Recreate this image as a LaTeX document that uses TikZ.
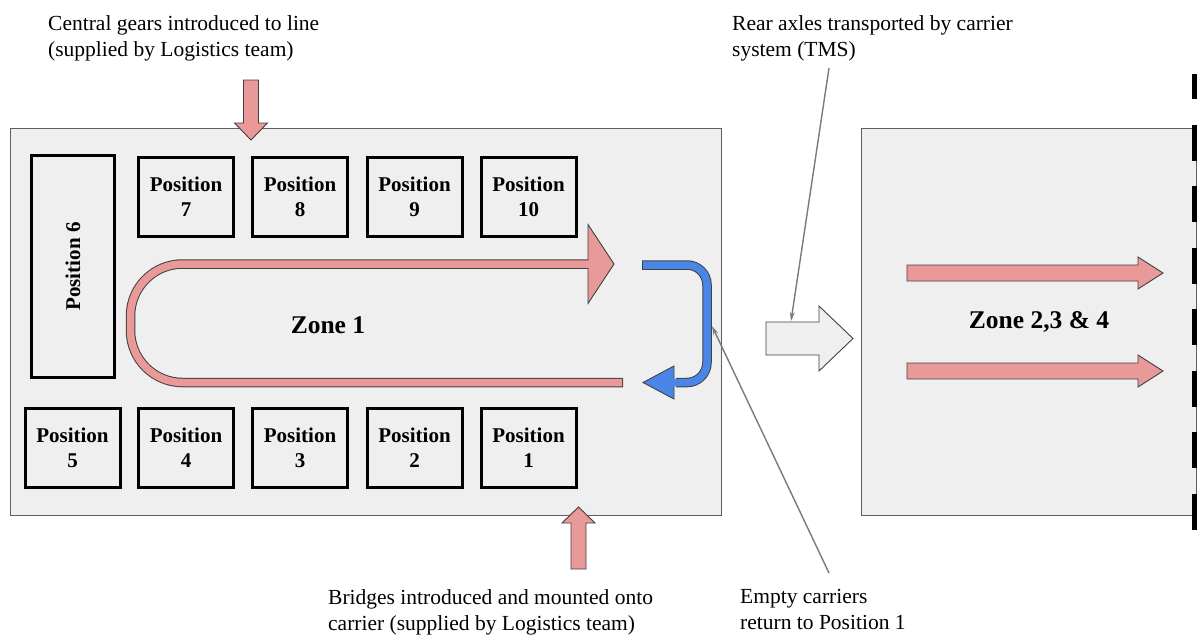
\documentclass[tikz,border=0pt]{standalone}
\usepackage{fontspec}
\setmainfont{Liberation Serif}
\usetikzlibrary{arrows.meta}
\definecolor{pinkf}{HTML}{EA9999}
\definecolor{bluef}{HTML}{4A86E8}
\definecolor{grayf}{HTML}{EFEFEF}
\definecolor{edgec}{HTML}{5F5F5F}
\definecolor{arrowedge}{HTML}{404040}
\definecolor{ptrc}{HTML}{7A7A7A}
\begin{document}
\begin{tikzpicture}[x=1pt,y=-1pt,
  zonebox/.style={draw=edgec,fill=grayf,line width=1pt,minimum width=711pt,minimum height=387pt,inner sep=0pt},
  posbox/.style={draw=black,line width=3pt,minimum width=95pt,minimum height=79pt,inner sep=0pt,align=center,
    font=\bfseries\fontsize{21}{25}\selectfont},
  zonelabel/.style={font=\bfseries\fontsize{25.5}{30}\selectfont,inner sep=0pt},
  note/.style={font=\fontsize{21.5}{26.5}\selectfont,align=left,anchor=north west,inner sep=0pt},
  blockarrow/.style={draw=arrowedge,line width=0.9pt,line join=miter},
  bandout/.style={draw=arrowedge,line width=9.5pt},
  bandin/.style={line width=7.5pt},
  pointer/.style={draw=ptrc,line width=1.4pt,-{Stealth[length=9pt,width=5pt]}}
]
\useasboundingbox (0,0) rectangle (1197,637);

% zone boxes
\node[zonebox] (zone1) at (365.5,321.5) {};
\node[zonebox,minimum width=335pt] (zone2) at (1028.5,321.5) {};

% dashed boundary
\draw[black,line width=5pt,dash pattern=on 36pt off 25.5pt,dash phase=11pt] (1194.5,74) -- (1194.5,540);

% positions
\node[posbox] (p7) at (186,197) {Position\\7};
\node[posbox] (p8) at (300,197) {Position\\8};
\node[posbox] (p9) at (414.5,197) {Position\\9};
\node[posbox] (p10) at (528.5,197) {Position\\10};
\node[posbox] (p5) at (72.5,448) {Position\\5};
\node[posbox] (p4) at (186,448) {Position\\4};
\node[posbox] (p3) at (300,448) {Position\\3};
\node[posbox] (p2) at (414.5,448) {Position\\2};
\node[posbox] (p1) at (528.5,448) {Position\\1};
\node[posbox,minimum width=83pt,minimum height=222pt] (p6) at (73,266.5) {};
\node[font=\bfseries\fontsize{21}{25}\selectfont,rotate=90,inner sep=0pt] (p6t) at (p6.center) {Position 6};

% pink U-turn arrow in zone 1
\draw[bandout,rounded corners=52pt] (623,382.5) -- (130.5,382.5) -- (130.5,264) -- (590,264);
\draw[blockarrow,fill=pinkf] (588,224.5) -- (614,264) -- (588,303.5) -- cycle;
\draw[bandin,draw=pinkf,rounded corners=52pt] (622,382.5) -- (130.5,382.5) -- (130.5,264) -- (590,264);

% blue return arrow
\draw[bandout,rounded corners=20pt] (642,265) -- (707,265) -- (707,382.5) -- (676,382.5);
\draw[blockarrow,fill=bluef] (674,366) -- (643,382.5) -- (674,399) -- cycle;
\draw[bandin,draw=bluef,rounded corners=20pt] (643,265) -- (707,265) -- (707,382.5) -- (672,382.5);

\node[zonelabel] (z1t) at (328,325) {Zone 1};
\node[zonelabel] (z2t) at (1039,322) {Zone 2,3 \& 4};

% transfer arrow between zones
\draw[blockarrow,fill=grayf] (766,322) -- (819,322) -- (819,306) -- (853,338.5) -- (819,371) -- (819,355) -- (766,355) -- cycle;

% zone 2 flow arrows
\draw[blockarrow,fill=pinkf] (907,265) -- (1138,265) -- (1138,257) -- (1163,273) -- (1138,289) -- (1138,281) -- (907,281) -- cycle;
\draw[blockarrow,fill=pinkf] (907,363) -- (1138,363) -- (1138,355) -- (1163,371) -- (1138,387) -- (1138,379) -- (907,379) -- cycle;

% supply arrows
\draw[blockarrow,fill=pinkf] (243.5,80) -- (258.5,80) -- (258.5,123) -- (267.5,123) -- (251,140) -- (234.5,123) -- (243.5,123) -- cycle;
\draw[blockarrow,fill=pinkf] (571,569) -- (586,569) -- (586,523) -- (595,523) -- (578.5,507) -- (562,523) -- (571,523) -- cycle;

% notes
\node[note] (central) at (48,15) {Central gears introduced to line\\(supplied by Logistics team)};
\node[note] (rear) at (732,15) {Rear axles transported by carrier\\system (TMS)};
\node[note] (bridges) at (328,589) {Bridges introduced and mounted onto\\carrier (supplied by Logistics team)};
\node[note] (empty) at (740,589) {Empty carriers\\return to Position 1};

% pointers
\coordinate (rearfrom) at (829,68);
\coordinate (transfertop) at (791,321);
\coordinate (emptyfrom) at (829,573);
\coordinate (bluetip) at (712,326);
\draw[pointer] (rearfrom) -- (transfertop);
\draw[pointer] (emptyfrom) -- (bluetip);
\end{tikzpicture}
\end{document}
